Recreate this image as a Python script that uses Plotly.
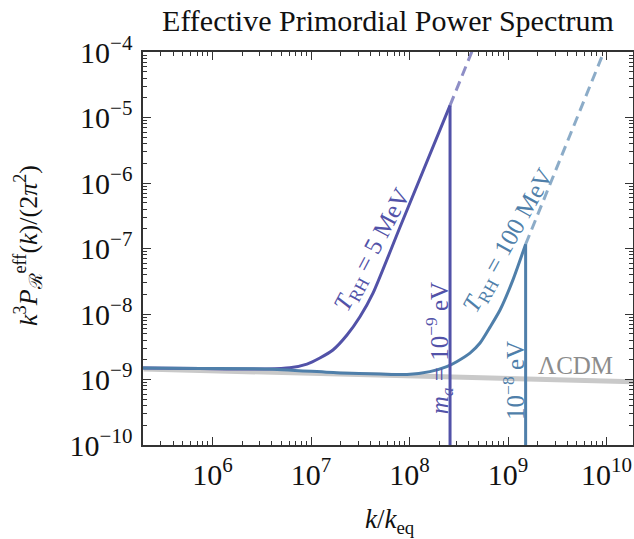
import numpy as np
import plotly.graph_objects as go

# ---- data ----
# Lambda-CDM reference spectrum
k_lcdm = [2.0e5, 2.0e10]
P_lcdm = [1.45e-9, 0.92e-9]

# T_RH = 5 MeV curve (solid part, up to the cutoff)
k_5 = [1.97e5, 7.5e5, 3.57e6, 6.1e6, 9.1e6, 1.23e7, 1.67e7, 2.32e7, 3.14e7, 4.26e7, 8.0e7, 2.58e8]
P_5 = [1.50e-9, 1.47e-9, 1.45e-9, 1.51e-9, 1.72e-9, 2.13e-9, 2.82e-9, 4.77e-9, 9.06e-9, 2.08e-8, 2.11e-7, 1.53e-5]
# dashed continuation
k_5d = [2.58e8, 5.2e8]
P_5d = [1.53e-5, 2.05e-4]
# cutoff k for m_a = 1e-9 eV
k_cut_9 = 2.58e8

# T_RH = 100 MeV curve
k_100 = [1.97e5, 7.5e5, 3.57e6, 1.97e7, 5.02e7, 9.44e7, 1.61e8, 2.39e8, 3.01e8, 4.11e8,
         5.2e8, 6.57e8, 8.3e8, 1.12e9, 1.51e9]
P_100 = [1.50e-9, 1.47e-9, 1.45e-9, 1.26e-9, 1.21e-9, 1.19e-9, 1.32e-9, 1.57e-9, 1.87e-9, 2.53e-9,
         3.60e-9, 6.3e-9, 1.15e-8, 3.29e-8, 1.16e-7]
k_100d = [1.51e9, 1.14e10]
P_100d = [1.16e-7, 2.05e-4]
k_cut_8 = 1.51e9

P_floor = 1e-11

purple = "#5252a8"
purple_d = "rgba(82,82,168,0.65)"
blue = "#4f7faa"
blue_d = "rgba(79,127,170,0.65)"
gray = "#c9c9c9"

FONT = "Liberation Serif"

fig = go.Figure()
fig.add_trace(go.Scatter(x=k_lcdm, y=P_lcdm, mode="lines",
                         line=dict(color=gray, width=5), hoverinfo="skip"))
fig.add_trace(go.Scatter(x=k_5, y=P_5, mode="lines",
                         line=dict(color=purple, width=3, shape="spline", smoothing=0.6)))
fig.add_trace(go.Scatter(x=k_5d, y=P_5d, mode="lines",
                         line=dict(color=purple_d, width=3, dash="10px,6px")))
fig.add_trace(go.Scatter(x=k_100, y=P_100, mode="lines",
                         line=dict(color=blue, width=3, shape="spline", smoothing=0.6)))
fig.add_trace(go.Scatter(x=k_100d, y=P_100d, mode="lines",
                         line=dict(color=blue_d, width=3, dash="10px,6px")))
fig.add_trace(go.Scatter(x=[k_cut_9, k_cut_9], y=[P_5[-1], P_floor], mode="lines",
                         line=dict(color=purple, width=3)))
fig.add_trace(go.Scatter(x=[k_cut_8, k_cut_8], y=[P_100[-1], P_floor], mode="lines",
                         line=dict(color=blue, width=3)))

lg = np.log10
ann = [
    dict(x=lg(4.3e7), y=lg(9.3e-8), text="<i>T</i><sub>RH</sub> = 5 MeV", textangle=-62,
         font=dict(color=purple, size=25), xref="x", yref="y"),
    dict(x=lg(1.02e9), y=lg(1.3e-7), text="<i>T</i><sub>RH</sub> = 100 MeV", textangle=-61,
         font=dict(color=blue, size=25), xref="x", yref="y"),
    dict(x=lg(k_cut_9) - 0.11, y=-8.52, text="<i>m<sub>a</sub></i> = 10<sup>−9</sup> eV", textangle=-90,
         font=dict(color=purple, size=25), xref="x", yref="y"),
    dict(x=lg(k_cut_8) - 0.12, y=-9.01, text="10<sup>−8</sup> eV", textangle=-90,
         font=dict(color=blue, size=25), xref="x", yref="y"),
    dict(x=lg(4.9e9), y=lg(1.66e-9), text="ΛCDM", textangle=0,
         font=dict(color="#8c8c8c", size=25), xref="x", yref="y"),
    # y-axis title
    dict(x=28, y=246, xref="paper", yref="paper", text="<i>k</i><sup>3</sup><i>P</i><sub>ℛ</sub><sup>eff</sup>(<i>k</i>)/(2<i>π</i><sup>2</sup>)",
         textangle=-90, font=dict(color="#111111", size=26)),
    # x-axis title
    dict(x=390, y=521, xref="paper", yref="paper", text="<i>k</i>/<i>k</i><sub>eq</sub>",
         textangle=0, font=dict(color="#111111", size=27)),
]
# convert pixel positions of axis titles to paper coordinates
L, R, T, B, W, H = 143, 1, 52, 94, 634, 539
for a in ann:
    if a["xref"] == "paper":
        a["x"] = (a["x"] - L) / (W - L - R)
        a["y"] = (H - B - a["y"]) / (H - T - B)
    a.update(showarrow=False, xanchor="center", yanchor="middle")
    a["font"]["family"] = FONT

axis_common = dict(
    type="log", showgrid=False, zeroline=False, automargin=False,
    showline=True, linecolor="#333333", linewidth=1.5, mirror="ticks",
    ticks="inside", ticklen=8, tickwidth=1, tickcolor="#333333",
    dtick=1, exponentformat="power", showexponent="all",
    tickfont=dict(family=FONT, size=24, color="#111111"),
    minor=dict(ticks="inside", ticklen=4, tickwidth=1, tickcolor="#333333", dtick="D1", showgrid=False),
)

fig.update_layout(
    width=W, height=H,
    margin=dict(l=L, r=R, t=T, b=B, autoexpand=False),
    paper_bgcolor="white", plot_bgcolor="white",
    showlegend=False,
    font=dict(family=FONT, size=22, color="#111111"),
    title=dict(text="Effective Primordial Power Spectrum", x=0.612, xanchor="center",
               y=0.962, yanchor="middle", font=dict(family=FONT, size=30, color="#111111")),
    annotations=ann,
)
fig.update_xaxes(**axis_common, range=[lg(1.97e5), 10.269], ticklabelstandoff=3)
fig.update_yaxes(**axis_common, range=[-10, -4], ticklabelstandoff=4)

fig.write_html("out.html", config={"displayModeBar": False},
               post_script="document.body.style.margin='0';document.body.style.padding='0';")
